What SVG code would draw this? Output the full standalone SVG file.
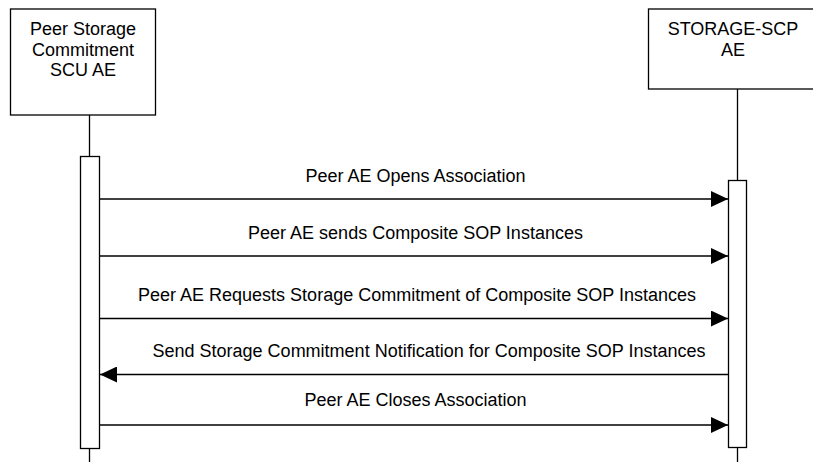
<svg xmlns="http://www.w3.org/2000/svg" width="813" height="462" viewBox="0 0 813 462">
<defs>
<style>
.box{fill:#fff;stroke:#000;stroke-width:1.3}
.life{stroke:#000;stroke-width:1.3;fill:none}
.msg{stroke:#000;stroke-width:1.5;fill:none}
text{font-family:"Liberation Sans",Arial,sans-serif;font-size:18px;fill:#000;text-anchor:middle}
</style>
<marker id="ah" markerWidth="17" markerHeight="16" refX="17" refY="8" orient="auto" markerUnits="userSpaceOnUse">
<path d="M0,0 L17,8 L0,16 Z" fill="#000"/>
</marker>
</defs>
<rect width="813" height="462" fill="#fff"/>
<g id="scu">
<rect class="box" x="10.5" y="9" width="145" height="106"/>
<text x="83" y="35">Peer Storage</text>
<text x="83" y="56">Commitment</text>
<text x="83" y="76">SCU AE</text>
<line class="life" x1="89.5" y1="115" x2="89.5" y2="156.5"/>
<line class="life" x1="89.5" y1="448.5" x2="89.5" y2="462"/>
<rect class="box" x="80.5" y="156.5" width="19" height="292"/>
</g>
<g id="scp">
<rect class="box" x="648.5" y="9" width="170" height="80"/>
<text x="733" y="35">STORAGE-SCP</text>
<text x="733" y="56">AE</text>
<line class="life" x1="737.5" y1="89" x2="737.5" y2="180.5"/>
<line class="life" x1="737.5" y1="447.5" x2="737.5" y2="462"/>
<rect class="box" x="728.5" y="180.5" width="18" height="267"/>
</g>
<g id="connectors">
<line class="msg" x1="99.5" y1="199" x2="728" y2="199" marker-end="url(#ah)"/>
<text x="415.5" y="182">Peer AE Opens Association</text>
<line class="msg" x1="99.5" y1="256" x2="728" y2="256" marker-end="url(#ah)"/>
<text x="415.5" y="239">Peer AE sends Composite SOP Instances</text>
<line class="msg" x1="99.5" y1="318.5" x2="728" y2="318.5" marker-end="url(#ah)"/>
<text x="417" y="301">Peer AE Requests Storage Commitment of Composite SOP Instances</text>
<line class="msg" x1="728.5" y1="374.5" x2="100" y2="374.5" marker-end="url(#ah)"/>
<text x="429" y="357">Send Storage Commitment Notification for Composite SOP Instances</text>
<line class="msg" x1="99.5" y1="425" x2="728" y2="425" marker-end="url(#ah)"/>
<text x="415.5" y="406">Peer AE Closes Association</text>
</g>
</svg>
